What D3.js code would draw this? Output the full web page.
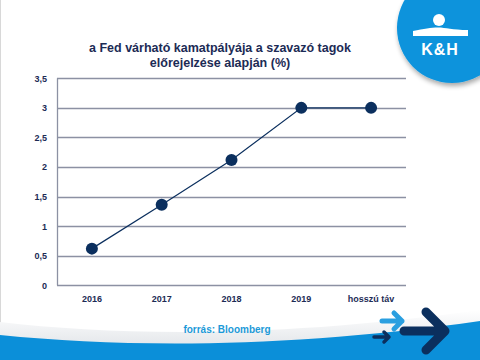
<!DOCTYPE html>
<html><head><meta charset="utf-8">
<script src="https://cdn.jsdelivr.net/npm/d3@7"></script>
<style>body{margin:0;background:#fff}svg{display:block}</style>
</head><body>
<script>
const categories = ["2016","2017","2018","2019","hosszú táv"];
const values = [0.62, 1.36, 2.12, 3.0, 3.0];
const yTicks = [0,0.5,1,1.5,2,2.5,3,3.5];
const titleLines = ["a Fed várható kamatpályája a szavazó tagok","előrejelzése alapján (%)"];
const sourceText = "forrás: Bloomberg";

const W=480,H=360;
const svg=d3.select("body").append("svg").attr("width",W).attr("height",H);
const defs=svg.append("defs");
const sh=defs.append("filter").attr("id","sh").attr("x","-20%").attr("y","-20%").attr("width","140%").attr("height","140%");
sh.append("feGaussianBlur").attr("in","SourceAlpha").attr("stdDeviation",2.5);
sh.append("feOffset").attr("dx",1).attr("dy",3).attr("result","b");
sh.append("feComponentTransfer").append("feFuncA").attr("type","linear").attr("slope",0.35);
const m=sh.append("feMerge");m.append("feMergeNode");m.append("feMergeNode").attr("in","SourceGraphic");

svg.append("line").attr("x1",0.5).attr("x2",0.5).attr("y1",0).attr("y2",H).attr("stroke","#d8d8d8");

// bottom wave
const wg=defs.append("linearGradient").attr("id","wg").attr("x1",0).attr("x2",0).attr("y1",0).attr("y2",1);
wg.append("stop").attr("offset","0").attr("stop-color","#ffffff");
wg.append("stop").attr("offset","1").attr("stop-color","#d9dde2");
svg.append("path").attr("d","M0,322 C120,336 280,338 480,310 L480,360 L0,360 Z").attr("fill","url(#wg)");
svg.append("path").attr("d","M0,335 C130,348 290,348 480,321 L480,360 L0,360 Z").attr("fill","#0b8fd9");

const margin={l:57,r:406,t:78.3,b:285.3};
const x=d3.scaleBand().domain(categories).range([margin.l,margin.r]);
const y=d3.scaleLinear().domain([0,3.5]).range([margin.b,margin.t]);
const navy="#0b2f5e", txt="#1c2b55";
const font="Liberation Sans, Arial, sans-serif";

svg.append("g").selectAll("line").data(yTicks).join("line")
 .attr("x1",margin.l).attr("x2",margin.r).attr("y1",d=>Math.round(y(d))+0.5).attr("y2",d=>Math.round(y(d))+0.5)
 .attr("stroke","#8c91a3").attr("stroke-width",1.3);
svg.append("line").attr("x1",margin.l+0.5).attr("x2",margin.l+0.5).attr("y1",margin.t).attr("y2",margin.b)
 .attr("stroke","#8c91a3").attr("stroke-width",1.3);

const yAxis=d3.axisLeft(y).tickValues(yTicks).tickSize(0).tickPadding(10).tickFormat(d=>String(d).replace(".",","));
const ya=svg.append("g").attr("transform",`translate(${margin.l},0)`).call(yAxis);
ya.select(".domain").remove();
ya.selectAll("text").attr("font-family",font).attr("font-size",9).attr("font-weight","bold").attr("fill",txt);

const xAxis=d3.axisBottom(x).tickSize(0).tickPadding(10);
const xa=svg.append("g").attr("transform",`translate(0,${margin.b})`).call(xAxis);
xa.select(".domain").remove();
xa.selectAll("text").attr("font-family",font).attr("font-size",9).attr("font-weight","bold").attr("fill",txt);

const pts=categories.map((c,i)=>({c,v:values[i]}));
svg.append("path").datum(pts).attr("fill","none").attr("stroke",navy).attr("stroke-width",1.2)
 .attr("d",d3.line().x(d=>x(d.c)+x.bandwidth()/2).y(d=>y(d.v)));
svg.append("g").selectAll("circle").data(pts).join("circle")
 .attr("cx",d=>x(d.c)+x.bandwidth()/2).attr("cy",d=>y(d.v)).attr("r",6).attr("fill",navy);

svg.append("text").attr("x",220).attr("y",52).attr("text-anchor","middle")
 .attr("font-family",font).attr("font-size",12.5).attr("font-weight","bold").attr("fill",txt)
 .selectAll("tspan").data(titleLines).join("tspan").attr("x",220).attr("dy",(d,i)=>i?15:0).text(d=>d);

svg.append("text").attr("x",227).attr("y",333).attr("text-anchor","middle")
 .attr("font-family",font).attr("font-size",10).attr("font-weight","bold").attr("fill","#1c9ad8").text(sourceText);

// logo
const lg=svg.append("g");
lg.append("circle").attr("cx",452).attr("cy",28).attr("r",55).attr("fill","#0a93dc").attr("filter","url(#sh)");
lg.append("circle").attr("cx",439).attr("cy",20).attr("r",6).attr("fill","#fff");
lg.append("path").attr("d","M413,31 C424,29 431,27.5 438,27.5 C446,27.5 452,30 468,30 L468,36 L413,36 Z").attr("fill","#fff");
lg.append("text").attr("x",440).attr("y",54.5).attr("text-anchor","middle").attr("font-family",font)
 .attr("font-size",16).attr("font-weight","bold").attr("letter-spacing",1).attr("fill","#fff").text("K&H");

// arrows
function arrow(x1,x2,yc,h,w,col){
 svg.append("path").attr("d",`M${x1},${yc} L${x2},${yc} M${x2-h},${yc-h} L${x2},${yc} L${x2-h},${yc+h}`)
  .attr("fill","none").attr("stroke",col).attr("stroke-width",w).attr("stroke-linecap","round").attr("stroke-linejoin","round");
}
arrow(382,402,321,8,5,"#2a9fe0");
arrow(374,389,337,5,3.5,"#0b2f5e");
arrow(404,445,331,19,9,"#0b2f5e");
</script>
</body></html>
